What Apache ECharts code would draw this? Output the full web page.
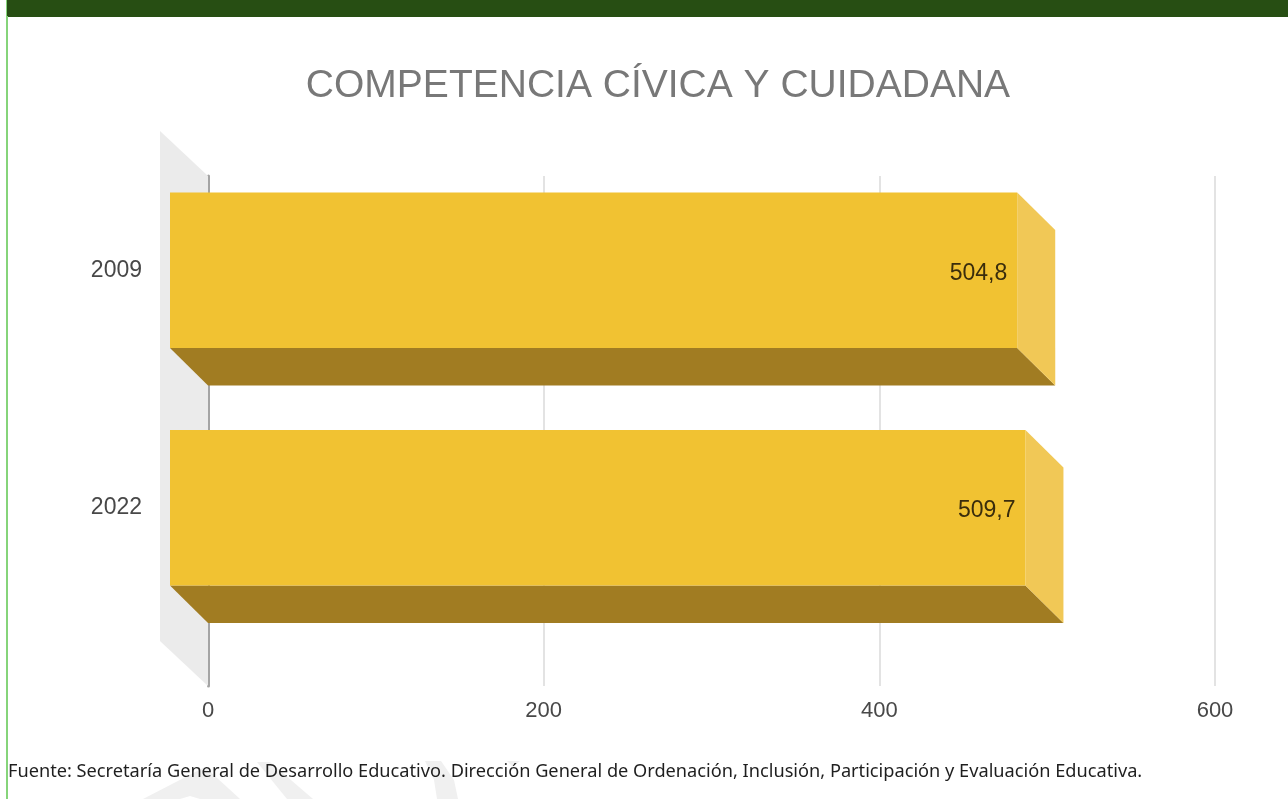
<!DOCTYPE html>
<html><head><meta charset="utf-8">
<style>html,body{margin:0;padding:0;background:#fff}#c{width:1288px;height:799px}</style>
<script src="https://cdn.jsdelivr.net/npm/echarts@6/dist/echarts.min.js"></script>
</head><body><div id="c"></div>
<script>
const categories = ['2009', '2022'];
const values = [504.8, 509.7];
const valueLabels = ['504,8', '509,7'];
const titleText = 'COMPETENCIA CÍVICA Y CUIDADANA';
const sourceText = 'Fuente: Secretaría General de Desarrollo Educativo. Dirección General de Ordenación, Inclusión, Participación y Evaluación Educativa.';

const chart = echarts.init(document.getElementById('c'), null, {renderer: 'canvas'});
const DEPTH_X = 38, DEPTH_Y = 37.5, BAR_H = 155.5;
const wm = '#f0f0f0';
const font = 'Liberation Sans';
chart.setOption({
  animation: false,
  backgroundColor: '#fff',
  title: {text: titleText, left: 653, top: 62, textAlign: 'center',
    textStyle: {fontFamily: font, fontSize: 39, fontWeight: 'normal', color: '#787878'}},
  grid: [
    {left: 208, right: 73, top: 176, bottom: 113},
    {left: 208, right: 73, top: 151.5, height: 475}
  ],
  xAxis: [
    {gridIndex: 0, type: 'value', min: 0, max: 600, interval: 200,
      axisLine: {show: false}, axisTick: {show: false},
      axisLabel: {fontFamily: font, fontSize: 22, color: '#484848', margin: 14},
      splitLine: {lineStyle: {color: '#e3e3e3', width: 2}}},
    {gridIndex: 1, type: 'value', min: 0, max: 600, interval: 200, show: false}
  ],
  yAxis: [
    {gridIndex: 0, type: 'category', data: [''], 
      axisLine: {show: true, onZero: false, lineStyle: {color: '#a4a4a4', width: 3}},
      axisTick: {show: false}, axisLabel: {show: false}},
    {gridIndex: 1, type: 'category', data: categories, inverse: true,
      axisLine: {show: false}, axisTick: {show: false},
      axisLabel: {fontFamily: font, fontSize: 23, color: '#484848', margin: 66}}
  ],
  series: [{
    type: 'custom', xAxisIndex: 0, yAxisIndex: 0, coordinateSystem: 'cartesian2d', clip: false, z: 1,
    data: [[0, 0]], encode: {x: 0, y: 1},
    renderItem(params) {
      const cs = params.coordSys, x = cs.x, top = cs.y, bot = cs.y + cs.height;
      return {type: 'polygon', silent: true, shape: {points: [
        [x - 48, top - 45], [x, top], [x, bot], [x - 48, bot - 45]
      ]}, style: {fill: '#ebebeb'}};
    }
  }, {
    type: 'custom', xAxisIndex: 1, yAxisIndex: 1, coordinateSystem: 'cartesian2d', clip: false, z: 3,
    data: values.map((v, i) => [v, i, valueLabels[i]]),
    encode: {x: 0, y: 1},
    renderItem(params, api) {
      const end = api.coord([api.value(0), api.value(1)]);
      const base = api.coord([0, api.value(1)]);
      const fx0 = base[0] - DEPTH_X, fx1 = end[0] - DEPTH_X;
      const ft = end[1] - BAR_H / 2, fb = end[1] + BAR_H / 2;
      const dx = DEPTH_X, dy = DEPTH_Y;
      return {type: 'group', children: [
        {type: 'polygon', shape: {points: [[fx0, fb], [fx1, fb], [fx1 + dx, fb + dy], [fx0 + dx, fb + dy]]}, style: {fill: '#a17c22'}},
        {type: 'polygon', shape: {points: [[fx1, ft], [fx1 + dx, ft + dy], [fx1 + dx, fb + dy], [fx1, fb]]}, style: {fill: '#f1c856'}},
        {type: 'rect', shape: {x: fx0, y: ft, width: fx1 - fx0, height: fb - ft}, style: {fill: '#f1c232'}},
        {type: 'text', style: {text: String(api.value(2)), x: fx1 - 10, y: end[1] + 3, align: 'right', verticalAlign: 'middle',
          font: '23px "Liberation Sans"', fill: '#3a2d0c'}}
      ]};
    }
  }],
  graphic: [
    {type: 'polygon', z: 0, shape: {points: [[143, 799], [205, 767], [240, 799], [200, 799], [190, 796], [180, 799]]}, style: {fill: wm}},
    {type: 'polygon', z: 0, shape: {points: [[257, 762], [270, 762], [313, 799], [287, 799]]}, style: {fill: wm}},
    {type: 'polygon', z: 0, shape: {points: [[425, 761], [441, 761], [454, 780], [458, 799], [437, 799], [434, 780]]}, style: {fill: wm}},
    {type: 'polygon', z: 0, shape: {points: [[507, 761], [520, 761], [513, 767]]}, style: {fill: wm}},
    {type: 'rect', z: 10, shape: {x: 6, y: 0, width: 1282, height: 17}, style: {fill: '#274e13'}},
    {type: 'rect', z: 10, shape: {x: 6, y: 0, width: 2, height: 799}, style: {fill: '#86d47a'}},
    {type: 'rect', z: 11, shape: {x: 7, y: 0, width: 1281, height: 16}, style: {fill: '#274e13'}},
    {type: 'text', z: 10, style: {text: sourceText, x: 8, y: 772, verticalAlign: 'middle', font: '18.2px "Noto Sans"', fill: '#1f1f1f'}}
  ]
});
</script></body></html>
